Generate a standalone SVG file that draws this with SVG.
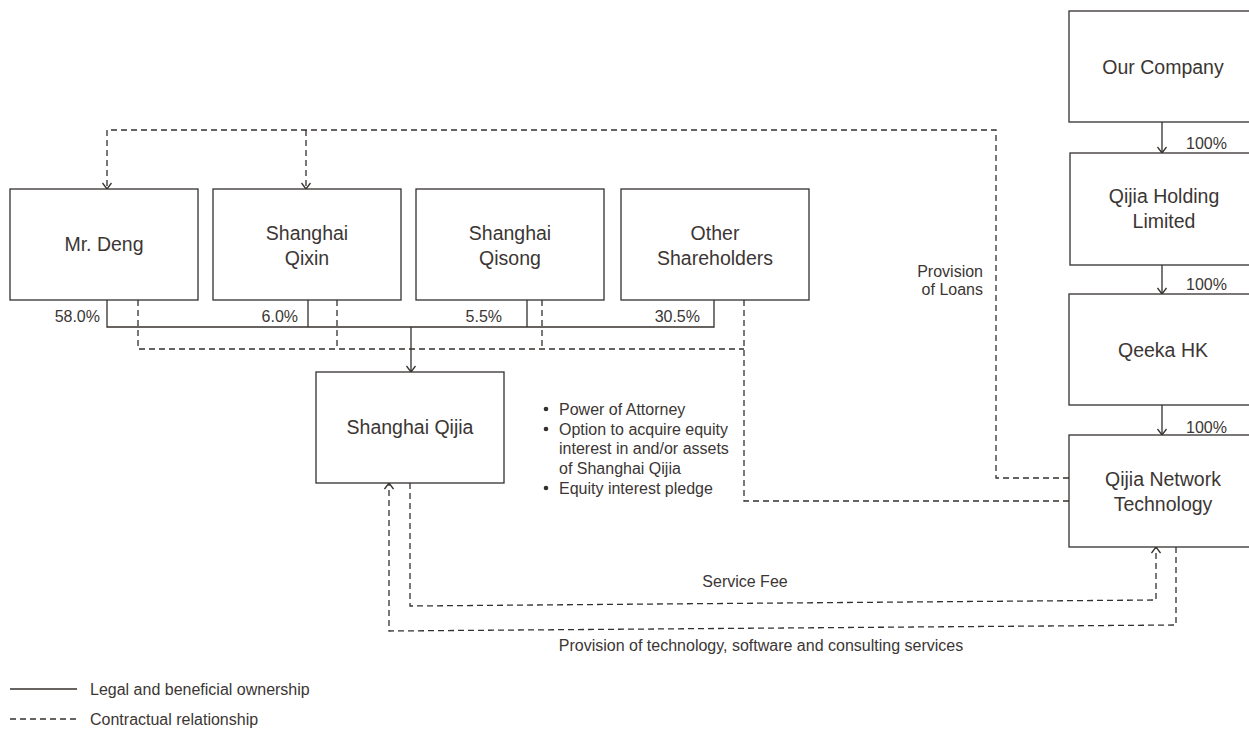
<svg xmlns="http://www.w3.org/2000/svg" width="1249" height="732" viewBox="0 0 1249 732">
<style>
text{font-family:"Liberation Sans",Arial,sans-serif;fill:#3b3634}
.b{font-size:19.5px;text-anchor:middle}
.s{font-size:16px}
.e{text-anchor:end}
.m{text-anchor:middle}
rect{fill:#fff;stroke:#34302e;stroke-width:1.3}
.sl{fill:none;stroke:#34302e;stroke-width:1.3}
.dl{fill:none;stroke:#34302e;stroke-width:1.3;stroke-dasharray:6 4}
</style>
<defs>
<marker id="arr" viewBox="0 0 10 10" refX="10" refY="5" markerWidth="10" markerHeight="10" markerUnits="userSpaceOnUse" orient="auto">
<path d="M4,0.5 L10,5 L4,9.5" fill="none" stroke="#34302e" stroke-width="1.3" stroke-dasharray="none"/>
</marker>
</defs>
<g id="connectors">
<path class="sl" d="M107,300 V327 H714 V300 M308,300 V327 M527,300 V327"/>
<path class="sl" d="M411,327 V372" marker-end="url(#arr)"/>
<path class="dl" d="M138,300 V349 H744 M337,300 V349 M542,300 V349"/>
<path class="dl" d="M744,300 V501 H1069"/>
<path class="dl" d="M1069,478 H996 V130 H107 V189" marker-end="url(#arr)"/>
<path class="dl" d="M306,130 V189" marker-end="url(#arr)"/>
<path class="dl" d="M410,483 V606 L1156,600 V547" marker-end="url(#arr)"/>
<path class="dl" d="M1176,547 V625 L389,631 V483" marker-end="url(#arr)"/>
<path class="sl" d="M1162,122 V153" marker-end="url(#arr)"/>
<path class="sl" d="M1162,265 V294" marker-end="url(#arr)"/>
<path class="sl" d="M1162,405 V435" marker-end="url(#arr)"/>
</g>
<g id="labels">
<text class="s e" x="100" y="322">58.0%</text>
<text class="s e" x="298" y="322">6.0%</text>
<text class="s e" x="502" y="322">5.5%</text>
<text class="s e" x="700" y="322">30.5%</text>
<text class="s" x="1186" y="149">100%</text>
<text class="s" x="1186" y="290">100%</text>
<text class="s" x="1186" y="433">100%</text>
<text class="s e" x="983" y="277">Provision</text>
<text class="s e" x="983" y="295">of Loans</text>
<text class="s m" x="745" y="587">Service Fee</text>
<text class="s m" x="761" y="651">Provision of technology, software and consulting services</text>
</g>
<g id="bullets">
<circle cx="546" cy="409" r="2.3" fill="#34302e"/>
<circle cx="546" cy="429" r="2.3" fill="#34302e"/>
<circle cx="546" cy="488" r="2.3" fill="#34302e"/>
<text class="s" x="559" y="415">Power of Attorney</text>
<text class="s" x="559" y="435">Option to acquire equity</text>
<text class="s" x="559" y="454">interest in and/or assets</text>
<text class="s" x="559" y="474">of Shanghai Qijia</text>
<text class="s" x="559" y="494">Equity interest pledge</text>
</g>
<g id="mr-deng"><rect x="10" y="189" width="188" height="111"/><text class="b" x="104" y="251">Mr. Deng</text></g>
<g id="shanghai-qixin"><rect x="213" y="189" width="188" height="111"/><text class="b" x="307" y="240">Shanghai</text><text class="b" x="307" y="265">Qixin</text></g>
<g id="shanghai-qisong"><rect x="416" y="189" width="188" height="111"/><text class="b" x="510" y="240">Shanghai</text><text class="b" x="510" y="265">Qisong</text></g>
<g id="other-shareholders"><rect x="621" y="189" width="188" height="111"/><text class="b" x="715" y="240">Other</text><text class="b" x="715" y="265">Shareholders</text></g>
<g id="shanghai-qijia"><rect x="316" y="372" width="188" height="111"/><text class="b" x="410" y="434">Shanghai Qijia</text></g>
<g id="our-company"><rect x="1069" y="11" width="188" height="111"/><text class="b" x="1163" y="74">Our Company</text></g>
<g id="qijia-holding"><rect x="1070" y="153" width="188" height="112"/><text class="b" x="1164" y="203">Qijia Holding</text><text class="b" x="1164" y="228">Limited</text></g>
<g id="qeeka-hk"><rect x="1069" y="294" width="188" height="111"/><text class="b" x="1163" y="357">Qeeka HK</text></g>
<g id="qijia-network"><rect x="1069" y="435" width="188" height="112"/><text class="b" x="1163" y="486">Qijia Network</text><text class="b" x="1163" y="511">Technology</text></g>
<g id="legend">
<line class="sl" x1="10" y1="689" x2="77" y2="689"/>
<text class="s" x="90" y="695">Legal and beneficial ownership</text>
<line class="dl" x1="10" y1="719" x2="77" y2="719"/>
<text class="s" x="90" y="725">Contractual relationship</text>
</g>
</svg>
